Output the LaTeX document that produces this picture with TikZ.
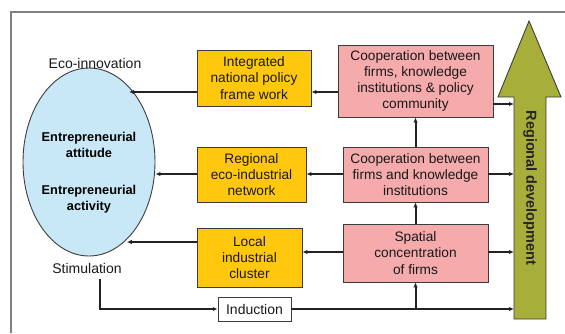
\documentclass[tikz,border=0pt]{standalone}
\usepackage{fontspec}
\setmainfont{Liberation Sans}
\usetikzlibrary{shapes.geometric,arrows.meta,calc}
\definecolor{ylw}{RGB}{255,200,12}
\definecolor{pnk}{RGB}{245,170,172}
\definecolor{blu}{RGB}{200,232,248}
\definecolor{olv}{RGB}{168,174,58}
\definecolor{boxline}{RGB}{60,60,60}
\definecolor{arrcol}{RGB}{35,35,35}
\definecolor{framecol}{RGB}{128,128,128}
\tikzset{
  txt/.style={font=\fontsize{13.7}{16.3}\selectfont, text=black!90},
  ybox/.style={txt, draw=boxline, line width=0.9pt, fill=ylw, align=center, inner sep=0pt},
  pbox/.style={txt, draw=boxline, line width=0.9pt, fill=pnk, align=center, inner sep=0pt},
  arr/.style={-{Latex[length=5pt,width=4.5pt]}, line width=2pt, draw=arrcol},
  thinarr/.style={-{Latex[length=4.5pt,width=4pt]}, line width=1.2pt, draw=arrcol},
}

\begin{document}
\begin{tikzpicture}[x=1pt,y=-1pt]
  \useasboundingbox (0,0) rectangle (565,333);
  \draw[framecol, line width=1.5pt] (11,333) -- (11,12) -- (565,12);

  % rows of arrow heights
  \coordinate (r1) at (0,92);
  \coordinate (r2) at (0,174);
  \coordinate (r3) at (0,242);
  \coordinate (r3b) at (0,252);
  \coordinate (r1b) at (0,104);

  % left side
  \node[ellipse, draw=boxline, line width=0.9pt, fill=blu, minimum width=132pt, minimum height=188pt, inner sep=0pt] (ell) at (89,162) {};
  \node[align=center, font=\bfseries\fontsize{12.8}{16}\selectfont] (attit) at (89,145) {Entrepreneurial\\attitude};
  \node[align=center, font=\bfseries\fontsize{12.8}{16}\selectfont] (activ) at (89,199.5) {Entrepreneurial\\activity};
  \node[txt, font=\fontsize{14}{16}\selectfont] (eco) at (95,63) {Eco-innovation};
  \node[txt, font=\fontsize{14}{16}\selectfont] (stim) at (87,268) {Stimulation};

  % yellow boxes
  \node[ybox, minimum width=114pt, minimum height=56pt] (yelA) at (254,78) {Integrated\\national policy\\frame work};
  \node[ybox, minimum width=109pt, minimum height=55pt] (yelB) at (251.5,174.5) {Regional\\eco-industrial\\network};
  \node[ybox, minimum width=105pt, minimum height=59pt] (yelC) at (249.5,257.5) {Local\\industrial\\cluster};

  % pink boxes
  \node[pbox, minimum width=155pt, minimum height=72pt] (pinkA) at (415.5,81) {Cooperation between\\firms, knowledge\\institutions \& policy\\community};
  \node[pbox, minimum width=145pt, minimum height=55pt] (pinkB) at (415.5,174.5) {Cooperation between\\firms and knowledge\\institutions};
  \node[pbox, minimum width=145pt, minimum height=58pt] (pinkC) at (415.5,253) {Spatial\\concentration\\of firms};

  \node[txt, font=\fontsize{14}{16}\selectfont, draw=boxline, line width=0.9pt, fill=white, minimum width=73pt, minimum height=24pt, inner sep=0pt] (induct) at (254.5,309) {Induction};

  % big arrow
  \draw[boxline, line width=0.9pt, fill=olv] (514,319) -- (514,97) -- (498,97) -- (529,21) -- (561,97) -- (546,97) -- (546,319) -- cycle;
  \coordinate (shaft) at (514,0);
  \node[rotate=-90, font=\bfseries\fontsize{14.5}{16}\selectfont, text=black!85] (regdev) at (530,188) {Regional development};

  % connectors
  \draw[arr] (pinkA.west |- r1) -- (yelA.east |- r1);
  \draw[arr] (yelA.west |- r1) -- (ell.62 |- r1);
  \draw[arr] (pinkB.west |- r2) -- (yelB.east |- r2);
  \draw[arr] (yelB.west |- r2) -- (ell.east |- r2);
  \draw[arr] (pinkC.west |- r3b) -- (yelC.east |- r3b);
  \draw[arr] (yelC.west |- r3) -- (ell.-64 |- r3);
  \draw[arr] (pinkC.north) -- (pinkB.south);
  \draw[arr] (pinkB.north) -- (pinkA.south);
  \draw[arr] (pinkA.east |- r1b) -- (shaft |- r1b);
  \draw[arr] (pinkB.east |- r2) -- (shaft |- r2);
  \draw[arr] (pinkC.east |- r3b) -- (shaft |- r3b);
  \draw[thinarr] ($(stim.south)+(13,2)$) |- (induct.west);
  \draw[arr] (induct.east) -- (shaft |- induct.east);
  \draw[arr] (pinkC.south |- induct.east) -- (pinkC.south);
\end{tikzpicture}
\end{document}
